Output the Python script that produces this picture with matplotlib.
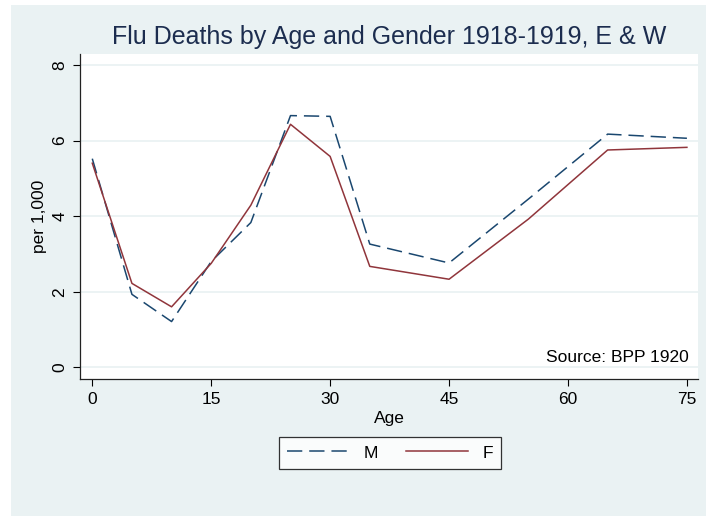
import matplotlib
matplotlib.use("Agg")
import matplotlib.pyplot as plt
from matplotlib.patches import Rectangle

# Flu deaths per 1,000 by age, England & Wales 1918-1919
age = [0, 5, 10, 15, 20, 25, 30, 35, 45, 55, 65, 75]
male = [5.52, 1.93, 1.21, 2.80, 3.83, 6.66, 6.64, 3.26, 2.76, 4.45, 6.17, 6.06]
female = [5.40, 2.22, 1.60, 2.75, 4.29, 6.43, 5.58, 2.67, 2.33, 3.92, 5.75, 5.82]
xticks = [0, 15, 30, 45, 60, 75]
yticks = [0, 2, 4, 6, 8]

bg = "#EAF2F3"
navy = "#1A476F"
maroon = "#90353B"

plt.rcParams['font.family'] = ['Liberation Sans', 'DejaVu Sans']
plt.rcParams['lines.scale_dashes'] = False

fig = plt.figure(figsize=(7.06, 5.16), dpi=100)
fig.patch.set_facecolor("white")
# light background panel (leaves a thin white strip left and top, like the original)
fig.patches.append(Rectangle((11 / 706, 0), 1 - 11 / 706, 1 - 5 / 516,
                             transform=fig.transFigure, facecolor=bg,
                             edgecolor="none", zorder=-10))

ax = fig.add_axes([80 / 706, 1 - 379 / 516, 618 / 706, 325 / 516])
ax.set_facecolor("white")

ax.plot(age, male, color=navy, lw=1.1, dashes=(11, 5), label="M")
ax.plot(age, female, color=maroon, lw=1.1, label="F")

ax.set_xlim(-1.55, 76.4)
ax.set_ylim(-0.31, 8.29)
ax.set_xticks(xticks)
ax.set_yticks(yticks)
ax.set_yticklabels([str(v) for v in yticks], rotation=90, va="center")
ax.tick_params(axis="both", direction="out", length=5, width=0.8,
               colors="black", labelsize=12.5, pad=4)
ax.grid(axis="y", color=bg, lw=1.3)
ax.set_axisbelow(True)

for side in ["top", "right"]:
    ax.spines[side].set_visible(False)
for side in ["left", "bottom"]:
    ax.spines[side].set_color("#222222")
    ax.spines[side].set_linewidth(0.9)

ax.set_xlabel("Age", fontsize=12.5, labelpad=3)
ax.set_ylabel("per 1,000", fontsize=12.5, labelpad=4)
ax.set_title("Flu Deaths by Age and Gender 1918-1919, E & W",
             fontsize=18, color="#1C2D4F", pad=7)

ax.text(0.985, 0.065, "Source: BPP 1920", transform=ax.transAxes,
        ha="right", va="center", fontsize=12.5)

leg = fig.legend(loc="upper center", bbox_to_anchor=(390 / 706, 1 - 428 / 516),
                 ncol=2, fontsize=12.5, frameon=True, fancybox=False,
                 handlelength=3.6, columnspacing=1.6, handletextpad=0.8,
                 borderpad=0.5)
leg.get_frame().set_edgecolor("black")
leg.get_frame().set_linewidth(0.9)

fig.savefig("out.png", dpi=100, facecolor=fig.get_facecolor())
